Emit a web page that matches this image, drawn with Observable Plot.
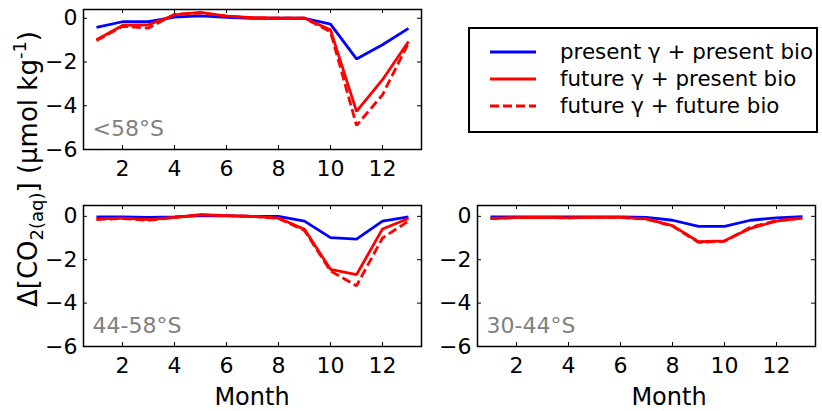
<!DOCTYPE html>
<html><head><meta charset="utf-8">
<script src="https://cdn.jsdelivr.net/npm/d3@7"></script>
<script src="https://cdn.jsdelivr.net/npm/@observablehq/plot@0.6"></script>
<style>
body{margin:0;background:#fff;}
#root{position:relative;width:822px;height:411px;overflow:hidden;font-family:"DejaVu Sans",sans-serif;background:#fff;}
#root > svg{position:absolute;}
</style></head><body><div id="root"></div>
<script>
// ---- data ----
const months = [1,2,3,4,5,6,7,8,9,10,11,12,13];
const xTicks = [2,4,6,8,10,12];
const yTicks = [0,-2,-4,-6];
const regions = ["<58°S","44-58°S","30-44°S"];
const seriesNames = ["present γ + present bio","future γ + present bio","future γ + future bio"];

// <58°S
const lt58_presentPresent = [-0.42,-0.16,-0.16,0.05,0.11,0.04,0.00,0.00,0.00,-0.27,-1.86,-1.21,-0.46];
const lt58_futurePresent  = [-0.98,-0.33,-0.30,0.15,0.27,0.10,0.03,0.00,0.00,-0.53,-4.26,-2.81,-1.06];
const lt58_futureFuture   = [-1.02,-0.37,-0.45,0.18,0.24,0.10,0.02,0.00,0.00,-0.62,-4.90,-3.50,-1.13];
// 44-58°S
const s44_58_presentPresent = [-0.03,-0.03,-0.05,-0.02,0.03,0.02,0.00,0.00,-0.22,-0.98,-1.05,-0.22,-0.02];
const s44_58_futurePresent  = [-0.12,-0.08,-0.15,-0.05,0.08,0.03,0.00,-0.08,-0.60,-2.44,-2.69,-0.58,-0.10];
const s44_58_futureFuture   = [-0.15,-0.10,-0.18,-0.06,0.07,0.03,0.00,-0.10,-0.65,-2.52,-3.20,-1.00,-0.22];
// 30-44°S
const s30_44_presentPresent = [-0.02,-0.02,-0.02,-0.02,-0.02,-0.02,-0.05,-0.18,-0.46,-0.46,-0.18,-0.07,-0.01];
const s30_44_futurePresent  = [-0.10,-0.06,-0.05,-0.07,-0.05,-0.05,-0.12,-0.43,-1.17,-1.13,-0.55,-0.22,-0.08];
const s30_44_futureFuture   = [-0.10,-0.06,-0.05,-0.07,-0.05,-0.05,-0.13,-0.45,-1.20,-1.15,-0.50,-0.20,-0.08];

// ---- drawing ----
const root = document.getElementById("root");
const FW = 338; // frame width
const ML = 60, MR = 6, MT = 6, MB = 40;
const BLUE = "#0000ff", RED = "#ff0000", LW = 2.8, DASH = "9,4";
const fmt = d3.format("d");

function panel(pp, fp, ff, label, yTop, frameH, left, top) {
  const rows = months.map((m, i) => ({m, pp: pp[i], fp: fp[i], ff: ff[i]}));
  const svg = Plot.plot({
    width: FW + ML + MR, height: frameH + MT + MB,
    marginLeft: ML, marginRight: MR, marginTop: MT, marginBottom: MB,
    x: {domain: [0.5, 13.5]},
    y: {domain: [-6, yTop]},
    style: {fontFamily: "DejaVu Sans", fontSize: "22px", color: "black", background: "transparent", overflow: "visible"},
    marks: [
      Plot.line(rows, {x: "m", y: "pp", stroke: BLUE, strokeWidth: LW, strokeLinejoin: "miter", strokeLinecap: "butt"}),
      Plot.line(rows, {x: "m", y: "fp", stroke: RED, strokeWidth: LW, strokeLinejoin: "miter", strokeLinecap: "butt"}),
      Plot.line(rows, {x: "m", y: "ff", stroke: RED, strokeWidth: LW, strokeDasharray: DASH, strokeLinejoin: "miter", strokeLinecap: "butt"}),
      Plot.frame({stroke: "black", strokeWidth: 1.5}),
      Plot.tickX(xTicks, {x: d => d, insetTop: frameH - 4, stroke: "black", strokeWidth: 1}),
      Plot.tickX(xTicks, {x: d => d, insetBottom: frameH - 4, stroke: "black", strokeWidth: 1}),
      Plot.tickY(yTicks, {y: d => d, insetLeft: FW - 4, stroke: "black", strokeWidth: 1}),
      Plot.tickY(yTicks, {y: d => d, insetRight: FW - 4, stroke: "black", strokeWidth: 1}),
      Plot.axisX({ticks: xTicks, tickSize: 0, tickPadding: 11, label: null, fontSize: 22, tickFormat: fmt}),
      Plot.axisY({ticks: yTicks, tickSize: 0, tickPadding: 6, label: null, fontSize: 22, tickFormat: fmt}),
      Plot.text([label], {text: d => d, frameAnchor: "bottom-left", textAnchor: "start", dx: 9, dy: -14, fill: "#808080", fontSize: 22})
    ]
  });
  svg.style.left = (left - ML) + "px";
  svg.style.top = (top - MT) + "px";
  root.appendChild(svg);
}

panel(lt58_presentPresent, lt58_futurePresent, lt58_futureFuture, regions[0], 0.4, 140, 83, 9);
panel(s44_58_presentPresent, s44_58_futurePresent, s44_58_futureFuture, regions[1], 0.5, 141, 83, 205);
panel(s30_44_presentPresent, s30_44_futurePresent, s30_44_futureFuture, regions[2], 0.5, 141, 477, 205);

// overlay: axis titles and legend
const ov = d3.select(root).append("svg")
  .attr("width", 822).attr("height", 411)
  .style("left", "0px").style("top", "0px")
  .attr("font-family", "DejaVu Sans");

ov.selectAll("text.month").data([252, 669]).join("text")
  .attr("class", "month")
  .attr("x", d => d).attr("y", 405)
  .attr("text-anchor", "middle").attr("font-size", 24)
  .text("Month");

const yl = ov.append("text")
  .attr("transform", "translate(37,169) rotate(-90)")
  .attr("text-anchor", "middle").attr("font-size", 26);
yl.append("tspan").text("Δ[CO");
yl.append("tspan").attr("font-size", 18).attr("baseline-shift", "-0.35em").text("2(aq)");
yl.append("tspan").text("] (μmol kg");
yl.append("tspan").attr("font-size", 18).attr("baseline-shift", "0.6em").text("-1");
yl.append("tspan").text(")");

// legend
const lg = ov.append("g");
lg.append("rect").attr("x", 469).attr("y", 28).attr("width", 348).attr("height", 104)
  .attr("fill", "white").attr("stroke", "black").attr("stroke-width", 2);
const legendRows = [
  {name: seriesNames[0], color: BLUE, dash: null, y: 52},
  {name: seriesNames[1], color: RED, dash: null, y: 79},
  {name: seriesNames[2], color: RED, dash: DASH, y: 106}
];
legendRows.forEach(r => {
  lg.append("line").attr("x1", 490).attr("x2", 536).attr("y1", r.y).attr("y2", r.y)
    .attr("stroke", r.color).attr("stroke-width", LW).attr("stroke-dasharray", r.dash);
  lg.append("text").attr("x", 560).attr("y", r.y).attr("dy", "0.35em")
    .attr("font-size", 21.4).text(r.name);
});
</script></body></html>
